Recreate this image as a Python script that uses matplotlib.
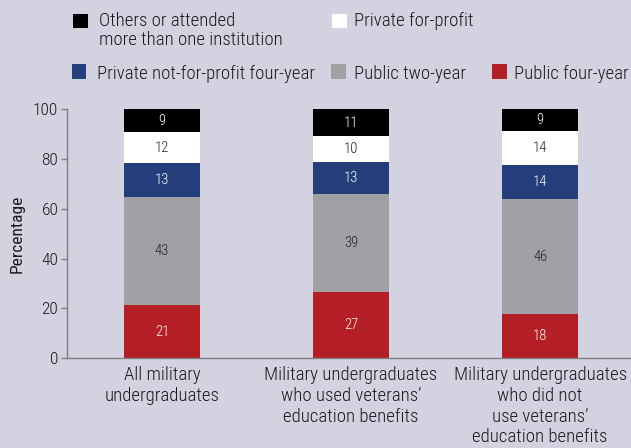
import matplotlib
matplotlib.use("Agg")
import matplotlib.pyplot as plt
from matplotlib.patches import Rectangle
from matplotlib import font_manager as fm
import numpy as np

avail = {f.name for f in fm.fontManager.ttflist}
cands = ['Roboto Condensed', 'Arial Narrow', 'Liberation Sans Narrow', 'PT Sans Narrow',
         'Archivo Narrow', 'Fira Sans Condensed', 'Barlow Condensed']
main_font = next((c for c in cands if c in avail), 'DejaVu Sans')
weights = {f.weight for f in fm.fontManager.ttflist if f.name == main_font}
fw = 300 if 300 in weights else 'normal'
plt.rcParams['font.family'] = [main_font, 'DejaVu Sans']
plt.rcParams['font.weight'] = fw

# ---- data ----
categories = ["All military\nundergraduates",
              "Military undergraduates\nwho used veterans\u2019\neducation benefits",
              "Military undergraduates\nwho did not\nuse veterans\u2019\neducation benefits"]
series_names = ["Public four-year", "Public two-year", "Private not-for-profit four-year",
                "Private for-profit", "Others or attended\nmore than one institution"]
public_four = [21.4, 26.6, 17.8]
public_two = [43.4, 39.2, 45.9]
private_nfp = [13.4, 12.9, 13.8]
private_fp = [12.4, 10.4, 13.6]
others = [9.4, 10.9, 8.9]
labels_shown = [[21, 27, 18], [43, 39, 46], [13, 13, 14], [12, 10, 14], [9, 11, 9]]
yticks = [0, 20, 40, 60, 80, 100]

colors = ["#b31f25", "#a0a1a5", "#233e7a", "#ffffff", "#000000"]
text_colors = ["white", "#222222", "white", "#222222", "white"]
bg = "#d3d2e1"

W, H = 631, 448
fig = plt.figure(figsize=(W / 100, H / 100), dpi=100, facecolor=bg)

def fx(x):
    return x / W

def fy(y):
    return 1 - y / H

ax_left, ax_right, ax_top, ax_bottom = 67.3, 631, 109, 358.3
ax = fig.add_axes([fx(ax_left), fy(ax_bottom), fx(ax_right - ax_left), (ax_bottom - ax_top) / H])
ax.set_facecolor(bg)

x = np.arange(len(categories))
series = [public_four, public_two, private_nfp, private_fp, others]
bottom = np.zeros(len(categories))
for vals, col, tcol, labs in zip(series, colors, text_colors, labels_shown):
    vals = np.array(vals)
    ax.bar(x, vals, bottom=bottom, width=0.402, color=col, edgecolor='none')
    for xi, b, v, lab in zip(x, bottom, vals, labs):
        ax.text(xi, b + v / 2, str(lab), ha='center', va='center', color=tcol, fontsize=10.5)
    bottom = bottom + vals

ax.set_xlim(-0.501, 2.481)
ax.set_ylim(0, 100)
ax.set_yticks(yticks)
ax.set_xticks(x)
ax.set_xticklabels(categories, fontsize=13.5, linespacing=1.2, color="#1a1a1a")
ax.tick_params(axis='x', length=0, pad=5.5)
ax.tick_params(axis='y', length=4.5, width=1, color="#808080", labelsize=12.5, pad=2, labelcolor="#1a1a1a")
for s in ['top', 'right']:
    ax.spines[s].set_visible(False)
for s in ['left', 'bottom']:
    ax.spines[s].set_color("#808080")
    ax.spines[s].set_linewidth(1)
ax.set_ylabel("Percentage", fontsize=12.5, color="#1a1a1a", labelpad=6)

# ---- legend (manual layout) ----
sq = 14.5
legend_items = [
    (4, 73, 14, 99, 26),
    (3, 332, 14, 354, 26),
    (2, 72, 64.5, 97, 78.7),
    (1, 331.5, 64.5, 354, 78.7),
    (0, 492, 64.5, 514, 78.7),
]
for idx, sx, sy, tx, ty in legend_items:
    fig.add_artist(Rectangle((fx(sx), fy(sy + sq)), sq / W, sq / H, transform=fig.transFigure,
                             facecolor=colors[idx], edgecolor='none'))
    name = series_names[idx]
    if "\n" in name:
        fig.text(fx(tx), fy(ty - 14), name, ha='left', va='top', fontsize=13.5,
                 color="#1a1a1a", linespacing=1.1)
    else:
        fig.text(fx(tx), fy(ty), name, ha='left', va='baseline', fontsize=13.5, color="#1a1a1a")

fig.savefig("out.png", dpi=100, facecolor=bg)
